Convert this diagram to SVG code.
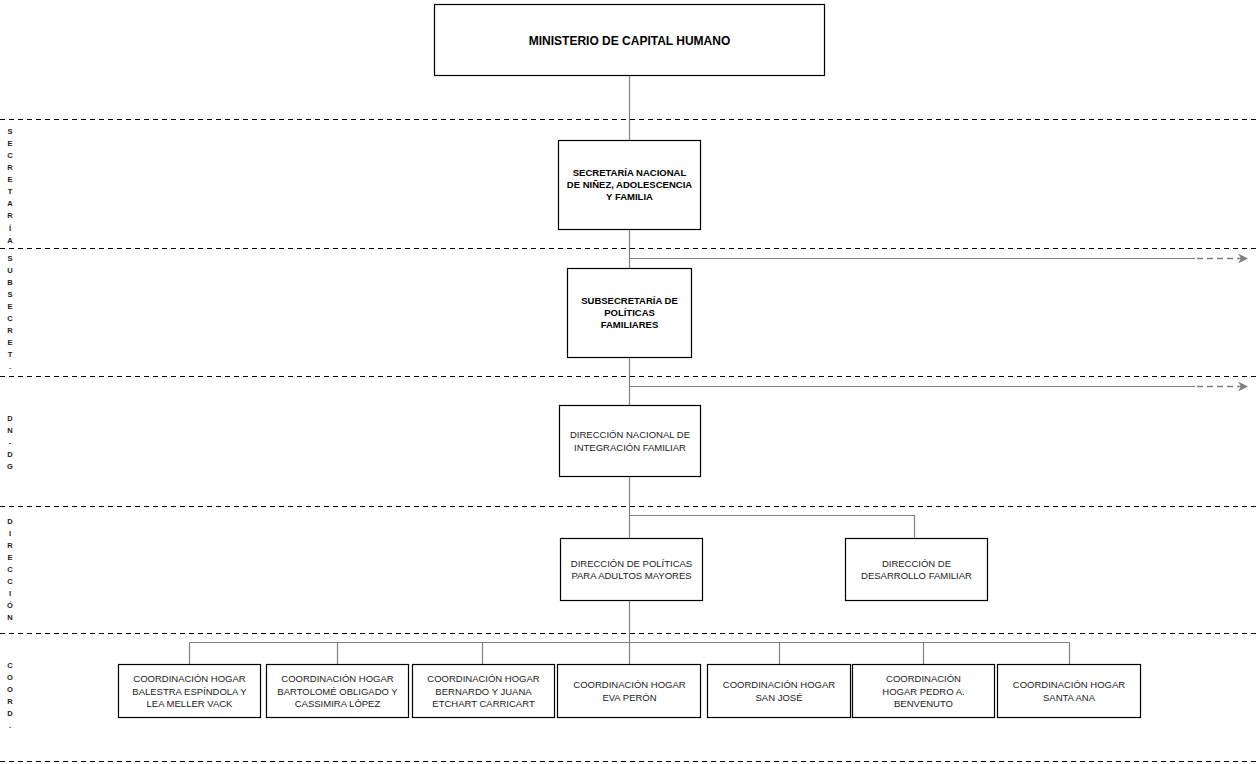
<svg xmlns="http://www.w3.org/2000/svg" width="1260" height="764" viewBox="0 0 1260 764">
<style>
.bg{fill:#fff}
.sep{stroke:#000;stroke-width:1;stroke-dasharray:5,4;fill:none}
.box{fill:#fff;stroke:#000;stroke-width:1.2}
.con{stroke:#808080;stroke-width:1.2;fill:none}
.dash{stroke:#808080;stroke-width:1.5;stroke-dasharray:6,4;fill:none}
.t{font-family:"Liberation Sans",Arial,sans-serif;font-size:9.5px;fill:#1a1a1a;text-anchor:middle}
.b{font-weight:bold;fill:#000}
.side{font-family:"Liberation Sans",Arial,sans-serif;font-size:7.5px;font-weight:bold;fill:#222;text-anchor:middle}
</style>
<defs>
<marker id="ah" viewBox="0 0 10 10" refX="9" refY="5" markerWidth="10" markerHeight="10" markerUnits="userSpaceOnUse" orient="auto">
<path d="M0,0 L10,5 L0,10 L3,5 Z" fill="#808080"/>
</marker>
</defs>
<rect class="bg" x="0" y="0" width="1260" height="764"/>
<g id="separators">
<line class="sep" x1="0" y1="119.5" x2="1260" y2="119.5"/>
<line class="sep" x1="0" y1="248.5" x2="1260" y2="248.5"/>
<line class="sep" x1="0" y1="376.5" x2="1260" y2="376.5"/>
<line class="sep" x1="0" y1="506.5" x2="1260" y2="506.5"/>
<line class="sep" x1="0" y1="633.5" x2="1260" y2="633.5"/>
<line class="sep" x1="0" y1="761.5" x2="1260" y2="761.5"/>
</g>
<g id="side-labels">
<text class="side"><tspan x="10" y="134">S</tspan><tspan x="10" y="146">E</tspan><tspan x="10" y="158">C</tspan><tspan x="10" y="170">R</tspan><tspan x="10" y="182">E</tspan><tspan x="10" y="194">T</tspan><tspan x="10" y="206">A</tspan><tspan x="10" y="218">R</tspan><tspan x="10" y="231">Í</tspan><tspan x="10" y="243">A</tspan></text>
<text class="side"><tspan x="10" y="261">S</tspan><tspan x="10" y="273">U</tspan><tspan x="10" y="285">B</tspan><tspan x="10" y="297">S</tspan><tspan x="10" y="309">E</tspan><tspan x="10" y="321">C</tspan><tspan x="10" y="333">R</tspan><tspan x="10" y="345">E</tspan><tspan x="10" y="357">T</tspan><tspan x="10" y="369">.</tspan></text>
<text class="side"><tspan x="10" y="421">D</tspan><tspan x="10" y="433">N</tspan><tspan x="10" y="445">-</tspan><tspan x="10" y="457">D</tspan><tspan x="10" y="469">G</tspan></text>
<text class="side"><tspan x="10" y="524">D</tspan><tspan x="10" y="536">I</tspan><tspan x="10" y="548">R</tspan><tspan x="10" y="560">E</tspan><tspan x="10" y="572">C</tspan><tspan x="10" y="584">C</tspan><tspan x="10" y="596">I</tspan><tspan x="10" y="608">Ó</tspan><tspan x="10" y="620">N</tspan></text>
<text class="side"><tspan x="10" y="668">C</tspan><tspan x="10" y="680">O</tspan><tspan x="10" y="692">O</tspan><tspan x="10" y="704">R</tspan><tspan x="10" y="716">D</tspan><tspan x="10" y="728">.</tspan></text>
</g>
<g id="connectors">
<line class="con" x1="629.5" y1="75" x2="629.5" y2="140"/>
<line class="con" x1="629.5" y1="229" x2="629.5" y2="268"/>
<line class="con" x1="629.5" y1="357" x2="629.5" y2="405"/>
<line class="con" x1="629.5" y1="476" x2="629.5" y2="538"/>
<line class="con" x1="629.5" y1="600" x2="629.5" y2="664"/>
<line class="con" x1="629.5" y1="258.5" x2="1195" y2="258.5"/>
<line class="dash" x1="1197" y1="258.5" x2="1247" y2="258.5" marker-end="url(#ah)"/>
<line class="con" x1="629.5" y1="386.5" x2="1195" y2="386.5"/>
<line class="dash" x1="1197" y1="386.5" x2="1247" y2="386.5" marker-end="url(#ah)"/>
<polyline class="con" points="629.5,515.5 914.5,515.5 914.5,538"/>
<line class="con" x1="189.5" y1="642.5" x2="1069.5" y2="642.5"/>
<line class="con" x1="189.5" y1="642.5" x2="189.5" y2="664"/>
<line class="con" x1="337.5" y1="642.5" x2="337.5" y2="664"/>
<line class="con" x1="482.5" y1="642.5" x2="482.5" y2="664"/>
<line class="con" x1="779.5" y1="642.5" x2="779.5" y2="664"/>
<line class="con" x1="923.5" y1="642.5" x2="923.5" y2="664"/>
<line class="con" x1="1069.5" y1="642.5" x2="1069.5" y2="664"/>
</g>
<g id="ministerio">
<rect class="box" x="434.5" y="4.5" width="390" height="71"/>
<text class="t b" x="629.5" y="44.5" style="font-size:12px">MINISTERIO DE CAPITAL HUMANO</text>
</g>
<g id="secretaria">
<rect class="box" x="558.5" y="140.5" width="142" height="89"/>
<text class="t b"><tspan x="629.5" y="175.5">SECRETARÍA NACIONAL</tspan><tspan x="629.5" y="187.5">DE NIÑEZ, ADOLESCENCIA</tspan><tspan x="629.5" y="199.5">Y FAMILIA</tspan></text>
</g>
<g id="subsecretaria">
<rect class="box" x="567.5" y="268.5" width="124" height="89"/>
<text class="t b"><tspan x="629.5" y="303.5">SUBSECRETARÍA DE</tspan><tspan x="629.5" y="315.5">POLÍTICAS</tspan><tspan x="629.5" y="327.5">FAMILIARES</tspan></text>
</g>
<g id="dn-integracion">
<rect class="box" x="559.5" y="405.5" width="141" height="71"/>
<text class="t"><tspan x="630" y="438">DIRECCIÓN NACIONAL DE</tspan><tspan x="630" y="451">INTEGRACIÓN FAMILIAR</tspan></text>
</g>
<g id="d-adultos">
<rect class="box" x="560.5" y="538.5" width="142" height="62"/>
<text class="t"><tspan x="631.5" y="567">DIRECCIÓN DE POLÍTICAS</tspan><tspan x="631.5" y="579">PARA ADULTOS MAYORES</tspan></text>
</g>
<g id="d-desarrollo">
<rect class="box" x="845.5" y="538.5" width="142" height="62"/>
<text class="t"><tspan x="916.5" y="567">DIRECCIÓN DE</tspan><tspan x="916.5" y="579">DESARROLLO FAMILIAR</tspan></text>
</g>
<g id="c-balestra">
<rect class="box" x="118.5" y="664.5" width="142" height="53"/>
<text class="t"><tspan x="189.5" y="682">COORDINACIÓN HOGAR</tspan><tspan x="189.5" y="694.5">BALESTRA ESPÍNDOLA Y</tspan><tspan x="189.5" y="707">LEA MELLER VACK</tspan></text>
</g>
<g id="c-bartolome">
<rect class="box" x="266.5" y="664.5" width="142" height="53"/>
<text class="t"><tspan x="337.5" y="682">COORDINACIÓN HOGAR</tspan><tspan x="337.5" y="694.5">BARTOLOMÉ OBLIGADO Y</tspan><tspan x="337.5" y="707">CASSIMIRA LÓPEZ</tspan></text>
</g>
<g id="c-bernardo">
<rect class="box" x="412.5" y="664.5" width="142" height="53"/>
<text class="t"><tspan x="483.5" y="682">COORDINACIÓN HOGAR</tspan><tspan x="483.5" y="694.5">BERNARDO Y JUANA</tspan><tspan x="483.5" y="707">ETCHART CARRICART</tspan></text>
</g>
<g id="c-evaperon">
<rect class="box" x="557.5" y="664.5" width="143" height="53"/>
<text class="t"><tspan x="629.5" y="688">COORDINACIÓN HOGAR</tspan><tspan x="629.5" y="700.5">EVA PERÓN</tspan></text>
</g>
<g id="c-sanjose">
<rect class="box" x="707.5" y="664.5" width="143" height="53"/>
<text class="t"><tspan x="779" y="688">COORDINACIÓN HOGAR</tspan><tspan x="779" y="700.5">SAN JOSÉ</tspan></text>
</g>
<g id="c-benvenuto">
<rect class="box" x="852.5" y="664.5" width="142" height="53"/>
<text class="t"><tspan x="923.5" y="682">COORDINACIÓN</tspan><tspan x="923.5" y="694.5">HOGAR PEDRO A.</tspan><tspan x="923.5" y="707">BENVENUTO</tspan></text>
</g>
<g id="c-santaana">
<rect class="box" x="997.5" y="664.5" width="143" height="53"/>
<text class="t"><tspan x="1069" y="688">COORDINACIÓN HOGAR</tspan><tspan x="1069" y="700.5">SANTA ANA</tspan></text>
</g>
</svg>
